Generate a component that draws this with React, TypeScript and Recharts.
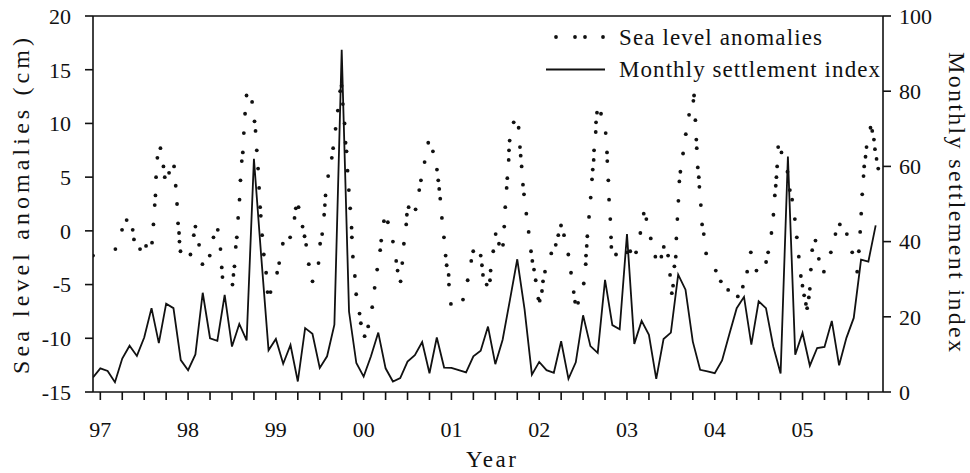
import React from 'react';
import { ComposedChart, Line, Scatter, XAxis, YAxis, ReferenceLine } from 'recharts';

// Monthly settlement index, one value per month starting Dec 1996
const settlementIndex = [
  3.9, 6.3, 5.6, 2.6, 8.9, 12.3, 9.6, 14.5, 22.3, 13.0,
  23.5, 22.3, 8.5, 5.8, 10.0, 26.4, 14.3, 13.6, 25.8, 12.1,
  18.1, 13.7, 62.0, 36.0, 11.1, 14.1, 7.5, 12.5, 2.8, 17.0,
  15.5, 6.4, 9.5, 17.9, 91.0, 21.4, 7.7, 4.1, 9.5, 15.8,
  6.3, 2.8, 3.7, 8.1, 9.8, 13.3, 5.0, 14.5, 6.5, 6.4,
  5.8, 5.2, 9.5, 11.0, 17.4, 7.4, 13.9, 24.5, 35.3, 22.0,
  4.6, 8.0, 5.8, 5.1, 13.5, 3.5, 7.9, 20.4, 12.2, 10.4,
  29.8, 17.8, 16.7, 42.0, 12.8, 18.9, 15.2, 3.5, 14.1, 15.8,
  31.2, 27.2, 13.4, 5.9, 5.5, 5.0, 8.4, 15.4, 22.3, 25.3,
  12.6, 24.1, 22.3, 12.1, 4.9, 62.6, 9.9, 15.7, 7.0, 11.7,
  12.0, 18.9, 7.1, 14.4, 19.7, 35.2, 34.7, 44.3,
];

// Sea level anomalies (cm): [months since Dec 1996, value]
const seaLevel: [number, number][] = [
  [0, -2.3], [3.06, -1.7], [3.97, 0.1], [4.6, 1.0], [5.43, 0.1], [5.6, -0.8], [6.43, -1.7], [7.25, -1.4],
  [8.07, -1.1], [8.26, 0.6], [8.44, 2.4], [8.54, 3.3], [8.62, 5.0], [8.8, 6.8], [9.22, 7.7], [9.63, 6.0],
  [9.81, 5.0], [10.4, 5.4], [11.08, 6.0], [11.31, 4.2], [11.49, 2.5], [11.63, 0.7], [11.76, -0.2], [11.82, -1.0],
  [11.96, -1.9], [13.32, -2.2], [13.78, -0.4], [14.0, 0.4], [14.5, -1.3], [14.96, -3.1], [15.96, -2.3], [16.47, -0.6],
  [17.06, 0.1], [17.43, -1.7], [17.6, -3.4], [17.7, -4.3],
  [19.07, -5.0], [19.2, -4.1], [19.34, -3.3], [19.52, -1.5], [19.66, -0.6], [19.84, 1.2], [20.03, 2.9], [20.16, 4.7],
  [20.34, 6.5], [20.48, 7.3], [20.62, 9.1], [20.79, 10.9], [20.99, 12.6], [21.75, 12.0], [22.08, 10.2], [22.22, 9.3],
  [22.39, 7.5], [22.57, 5.8], [22.71, 4.0], [22.85, 2.2], [22.94, 1.4], [23.12, -0.4], [23.35, -2.2], [23.67, -3.9],
  [23.86, -5.7], [24.27, -5.7], [25.17, -3.9], [25.45, -3.0], [25.95, -1.2], [26.95, -0.6], [27.55, 1.2], [27.73, 2.1],
  [28.1, 2.2], [28.65, 0.4], [28.92, -0.5], [29.14, -1.3], [29.5, -3.1], [30.01, -4.7], [30.83, -3.0], [31.05, -1.2],
  [31.33, -0.3], [31.6, 1.5], [31.7, 2.4], [31.79, 3.3], [32.15, 5.1], [32.65, 6.8], [32.83, 7.7], [33.16, 9.5],
  [33.47, 11.2], [33.79, 13.0], [33.98, 13.5], [34.16, 11.8], [34.39, 10.0], [34.53, 8.2], [34.66, 7.4], [34.8, 5.6],
  [34.98, 3.8], [35.16, 2.1], [35.35, 0.3], [35.39, -0.6], [35.53, -2.4],
  [35.8, -4.2], [35.98, -5.9], [36.44, -7.7], [36.62, -8.6], [37.13, -9.8], [37.62, -8.9], [38.17, -7.1], [38.5, -5.3],
  [38.85, -3.6], [39.26, -1.8], [39.4, -0.9], [39.77, 0.9], [40.31, 0.8], [41.0, -1.0], [41.45, -2.8], [41.64, -3.7],
  [42.05, -4.7], [42.28, -3.0], [42.5, -1.2], [42.82, 0.6], [42.91, 1.5], [43.15, 2.2], [44.1, 2.0], [44.6, 3.8],
  [44.83, 4.7], [45.33, 6.4], [45.83, 8.2], [46.47, 7.4], [47.02, 5.7], [47.2, 4.7], [47.33, 3.9], [47.47, 3.0],
  [47.7, 1.2], [47.98, -0.6], [48.21, -2.3], [48.35, -3.2], [48.62, -4.1], [48.66, -5.0], [48.93, -6.8], [50.58, -6.4],
  [51.22, -4.6], [51.71, -2.8], [51.98, -1.9], [53.0, -2.3], [53.17, -3.2], [53.31, -4.1],
  [53.82, -5.0], [54.27, -4.6], [54.36, -3.7], [54.72, -1.9], [55.05, -0.3], [55.5, -1.2], [56.05, -1.3], [56.22, 0.4],
  [56.36, 2.2], [56.55, 4.0], [56.64, 4.9], [56.83, 6.6], [56.87, 7.5], [56.96, 8.4], [57.51, 10.1], [58.19, 9.6],
  [58.37, 7.8], [58.47, 7.0], [58.6, 6.0], [58.78, 4.3], [58.92, 3.4], [59.24, 1.6], [59.56, -0.1], [59.88, -1.9],
  [60.06, -2.8], [60.29, -3.6], [60.52, -4.6], [60.88, -6.3], [61.07, -6.5], [61.38, -5.6], [61.52, -4.7], [61.79, -3.8],
  [62.65, -2.1], [63.26, -1.3], [63.61, -0.4], [63.98, 0.5], [64.39, -0.4], [64.98, -2.2], [65.35, -3.9], [65.72, -5.7],
  [65.9, -6.6], [66.31, -6.7], [67.09, -4.9], [67.36, -3.1], [67.4, -2.3], [67.5, -1.4], [67.58, -0.5], [67.81, 1.3],
  [68.04, 3.1], [68.22, 4.8], [68.32, 5.7], [68.45, 6.6], [68.5, 7.5], [68.73, 9.2], [68.77, 10.1], [68.9, 11.0],
  [69.45, 10.9], [70.09, 9.1], [70.27, 7.3], [70.31, 6.5], [70.45, 4.7], [70.55, 2.9], [70.72, 1.1], [70.82, -0.6],
  [70.86, -1.5],
  [71.5, -2.2], [73.01, -2.0], [73.45, -1.9], [74.24, -2.0], [74.83, -0.2], [75.29, 1.6], [75.65, 1.1], [76.25, -0.7],
  [76.88, -2.4], [77.7, -2.4], [78.03, -1.5], [78.62, -2.3], [78.89, -4.1], [79.13, -5.8], [79.3, -5.1], [79.48, -3.3],
  [79.67, -2.4], [79.75, -0.7], [79.89, 1.1], [80.03, 2.8], [80.16, 4.6], [80.3, 5.5], [80.67, 7.2], [81.04, 9.0],
  [81.49, 10.8], [82.08, 12.1], [82.17, 12.6], [82.35, 10.3], [82.48, 8.5], [82.54, 7.7], [82.68, 5.9], [82.82, 5.0],
  [82.9, 4.1], [83.1, 2.4], [83.27, 0.6], [83.5, -0.3], [83.82, -2.1], [85.14, -3.7], [85.83, -4.7], [86.83, -5.5],
  [88.15, -6.1], [88.84, -5.2],
  [89.43, -3.8], [89.93, -2.0], [90.7, -3.7], [92.02, -2.9], [92.3, -2.0], [92.75, -0.2], [93.02, 1.5], [93.21, 3.3],
  [93.34, 4.2], [93.43, 5.0], [93.53, 6.0], [93.67, 7.8], [94.12, 7.3], [94.94, 5.5], [95.27, 3.8], [95.58, 2.9],
  [95.95, 1.1], [96.22, -0.6], [96.49, -2.4], [96.77, -4.2], [96.99, -5.1], [97.22, -6.0], [97.46, -6.8], [97.63, -7.2],
  [97.86, -6.2], [98.0, -5.4], [98.14, -3.6], [98.32, -1.8], [98.77, -0.9], [99.23, -2.6], [99.92, -3.8], [100.87, -2.0],
  [101.5, -0.3], [102.1, 0.6], [103.06, -0.3], [103.79, -2.0], [104.47, -3.8], [104.7, -1.9], [104.88, -0.1], [105.02, 1.6],
  [105.16, 3.4], [105.34, 5.1], [105.43, 6.0], [105.61, 6.9], [105.75, 7.8], [106.29, 9.6], [106.53, 9.3], [106.76, 8.5],
  [106.9, 7.6], [107.12, 6.7], [107.35, 5.8],
];

const yearTicks = [97, 98, 99, 100, 101, 102, 103, 104, 105];
const yearLabels = ['97', '98', '99', '00', '01', '02', '03', '04', '05'];
const leftTicks = [-15, -10, -5, 0, 5, 10, 15, 20];
const rightTicks = [0, 20, 40, 60, 80, 100];

const START = 96 + 11 / 12;
const END = START + 9;
const toYear = (m: number) => START + m / 12;

const lineData = settlementIndex.map((v, i) => ({ t: toYear(i), idx: v }));
const dotData = seaLevel.map(([m, v]) => ({ t: toYear(m), sla: v }));

const quarterTicks: number[] = [];
for (let k = 0; k < 36; k++) quarterTicks.push(97 + k * 0.25);

const FONT = "'Liberation Serif', 'Times New Roman', serif";
const INK = '#111';

const yearFormatter = (v: number) => {
  const k = yearTicks.findIndex((y) => Math.abs(y - v) < 1e-6);
  return k >= 0 ? yearLabels[k] : '';
};

const Dot = (props: any) => {
  const { cx, cy } = props;
  if (cx == null || cy == null) return null;
  return <circle cx={cx} cy={cy} r={1.9} fill={INK} />;
};

const axisStroke = { stroke: INK, strokeWidth: 1.6 };
const tickStyle = { fill: INK, fontSize: 22, fontFamily: FONT };

export default function App() {
  return (
    <div style={{ position: 'absolute', left: 0, top: 0, width: 970, height: 473, background: '#fff' }}>
      <ComposedChart
        width={970}
        height={473}
        data={lineData}
        margin={{ top: 16, right: 27, bottom: 41, left: 33 }}
      >
        <XAxis
          xAxisId="x"
          type="number"
          dataKey="t"
          domain={[START, END]}
          ticks={quarterTicks}
          interval={0}
          tickFormatter={yearFormatter}
          tick={tickStyle}
          tickSize={8}
          tickMargin={21}
          tickLine={axisStroke}
          axisLine={axisStroke}
          height={40}
          allowDataOverflow
        />
        <YAxis
          yAxisId="left"
          type="number"
          domain={[-15, 20]}
          ticks={leftTicks}
          interval={0}
          tick={tickStyle}
          tickSize={8}
          tickMargin={14}
          tickLine={axisStroke}
          axisLine={axisStroke}
          width={60}
          allowDataOverflow
        />
        <YAxis
          yAxisId="right"
          orientation="right"
          type="number"
          domain={[0, 100]}
          ticks={rightTicks}
          interval={0}
          tick={tickStyle}
          tickSize={8}
          tickMargin={8}
          tickLine={axisStroke}
          axisLine={axisStroke}
          width={60}
          allowDataOverflow
        />
        <ReferenceLine xAxisId="x" yAxisId="left" y={20} stroke={INK} strokeWidth={1.6} />
        <Line
          xAxisId="x"
          yAxisId="right"
          type="linear"
          dataKey="idx"
          stroke={INK}
          strokeWidth={1.8}
          dot={false}
          activeDot={false}
          isAnimationActive={false}
        />
        <Scatter
          xAxisId="x"
          yAxisId="left"
          data={dotData}
          dataKey="sla"
          shape={Dot}
          isAnimationActive={false}
        />
      </ComposedChart>
      <svg
        width={970}
        height={473}
        style={{ position: 'absolute', left: 0, top: 0, pointerEvents: 'none' }}
        fontFamily={FONT}
        fill={INK}
      >
        {[556, 575, 585, 603].map((x) => (
          <circle key={x} cx={x} cy={37} r={1.9} fill={INK} />
        ))}
        <line x1={546} y1={69.5} x2={605} y2={69.5} stroke={INK} strokeWidth={1.8} />
        <text x={619} y={45} fontSize={23} textLength={203} lengthAdjust="spacing">Sea level anomalies</text>
        <text x={619} y={77} fontSize={23} textLength={261} lengthAdjust="spacing">Monthly settlement index</text>
        <text x={491} y={467} fontSize={23} textAnchor="middle" textLength={50} lengthAdjust="spacing">Year</text>
        <text transform="translate(29,206) rotate(-90)" fontSize={24} textAnchor="middle" textLength={336} lengthAdjust="spacing">
          Sea level anomalies (cm)
        </text>
        <text transform="translate(949,202) rotate(90)" fontSize={24} textAnchor="middle" textLength={300} lengthAdjust="spacing">
          Monthly settlement index
        </text>
      </svg>
    </div>
  );
}
